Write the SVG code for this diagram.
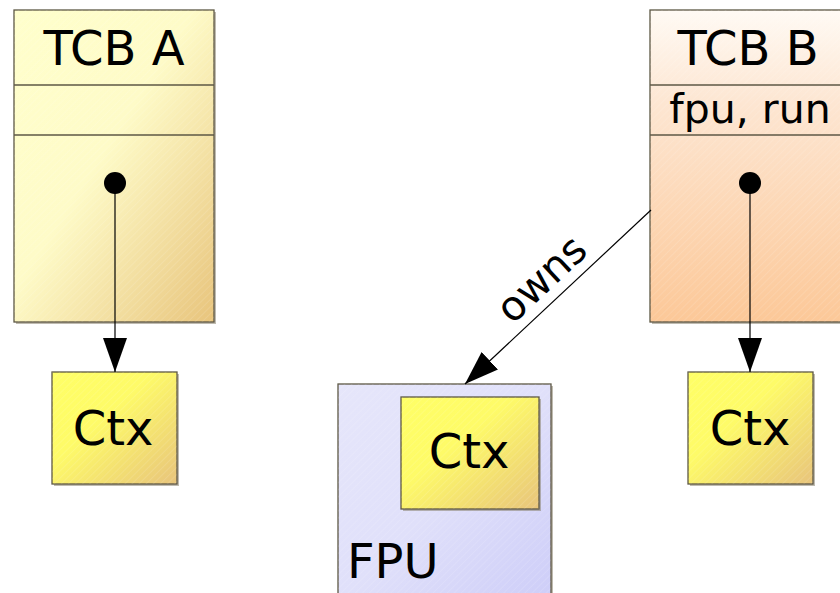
<svg xmlns="http://www.w3.org/2000/svg" width="840" height="593" viewBox="0 0 840 593">
  <defs>
    <linearGradient id="gTcbA" x1="0" y1="0" x2="1" y2="1">
      <stop offset="0" stop-color="#ffffcc"/>
      <stop offset="0.45" stop-color="#fefbc8"/>
      <stop offset="1" stop-color="#e8c47c"/>
    </linearGradient>
    <linearGradient id="gTcbB" x1="0" y1="0" x2="0" y2="1">
      <stop offset="0" stop-color="#fffaf4"/>
      <stop offset="0.3" stop-color="#fde6d2"/>
      <stop offset="1" stop-color="#fcc898"/>
    </linearGradient>
    <linearGradient id="gCtx" x1="0" y1="0" x2="1" y2="1">
      <stop offset="0" stop-color="#ffff66"/>
      <stop offset="0.4" stop-color="#fefb68"/>
      <stop offset="1" stop-color="#e8c47c"/>
    </linearGradient>
    <linearGradient id="gFpu" x1="0" y1="0" x2="1" y2="1">
      <stop offset="0" stop-color="#e6e6fa"/>
      <stop offset="0.5" stop-color="#e0e0fa"/>
      <stop offset="1" stop-color="#cdcdf8"/>
    </linearGradient>
    <pattern id="hatch" width="5" height="5" patternUnits="userSpaceOnUse" patternTransform="rotate(45)">
      <line x1="0" y1="0" x2="0" y2="5" stroke="#ffffff" stroke-opacity="0.22" stroke-width="1"/>
    </pattern>
    <marker id="arrow" viewBox="0 0 34 24" refX="34" refY="12" markerWidth="34" markerHeight="24" markerUnits="userSpaceOnUse" orient="auto">
      <path d="M0,0 L34,12 L0,24 Z" fill="#000"/>
    </marker>
  </defs>
  <style>
    .box { stroke: #5c5744; stroke-width: 1.3; }
    .shadow { fill: #8a8470; opacity: 0.55; }
    .hatch { fill: url(#hatch); stroke: none; }
    .div { stroke: #5c5744; stroke-width: 1.3; fill: none; }
    .lbl { font-family: "DejaVu Sans", "Liberation Sans", sans-serif; fill: #000; }
    .big { font-size: 48px; }
    .mid { font-size: 41px; }
    .conn { stroke: #000; stroke-width: 1.2; fill: none; }
  </style>

  <rect width="840" height="593" fill="#ffffff"/>

  <!-- TCB A: header, empty flags row, pointer slot -->
  <g id="tcbA">
    <rect class="shadow" x="16" y="12" width="200" height="312"/>
    <rect class="box" x="14" y="10" width="200" height="312" fill="url(#gTcbA)"/>
    <rect class="hatch" x="14" y="10" width="200" height="312"/>
    <line class="div" x1="14" y1="85" x2="214" y2="85"/>
    <line class="div" x1="14" y1="135" x2="214" y2="135"/>
    <text class="lbl big" x="114" y="65" text-anchor="middle">TCB A</text>
    <circle cx="115" cy="183" r="11" fill="#000"/>
  </g>

  <!-- TCB B: header, flags row, pointer slot -->
  <g id="tcbB">
    <rect class="shadow" x="652" y="12" width="200" height="312"/>
    <rect class="box" x="650" y="10" width="200" height="312" fill="url(#gTcbB)"/>
    <rect class="hatch" x="650" y="10" width="200" height="312"/>
    <line class="div" x1="650" y1="85" x2="850" y2="85"/>
    <line class="div" x1="650" y1="135" x2="850" y2="135"/>
    <text class="lbl big" x="748" y="65" text-anchor="middle">TCB B</text>
    <text class="lbl mid" x="750" y="123" text-anchor="middle">fpu, run</text>
    <circle cx="750" cy="183" r="11" fill="#000"/>
  </g>

  <!-- Context of TCB A -->
  <g id="ctxA">
    <rect class="shadow" x="54" y="374" width="125" height="112"/>
    <rect class="box" x="52" y="372" width="125" height="112" fill="url(#gCtx)"/>
    <rect class="hatch" x="52" y="372" width="125" height="112"/>
    <text class="lbl big" x="113" y="445" text-anchor="middle">Ctx</text>
  </g>

  <!-- Context of TCB B -->
  <g id="ctxB">
    <rect class="shadow" x="690" y="374" width="125" height="112"/>
    <rect class="box" x="688" y="372" width="125" height="112" fill="url(#gCtx)"/>
    <rect class="hatch" x="688" y="372" width="125" height="112"/>
    <text class="lbl big" x="750" y="445" text-anchor="middle">Ctx</text>
  </g>

  <!-- FPU with its loaded context -->
  <g id="fpu">
    <rect class="shadow" x="340" y="386" width="213" height="220"/>
    <rect class="box" x="338" y="384" width="213" height="220" fill="url(#gFpu)"/>
    <rect class="hatch" x="338" y="384" width="213" height="220"/>
    <text class="lbl big" x="347" y="578">FPU</text>
    <g id="fpuCtx">
      <rect class="shadow" x="403" y="399" width="138" height="112"/>
      <rect class="box" x="401" y="397" width="138" height="112" fill="url(#gCtx)"/>
      <rect class="hatch" x="401" y="397" width="138" height="112"/>
      <text class="lbl big" x="469" y="468" text-anchor="middle">Ctx</text>
    </g>
  </g>

  <!-- Connectors -->
  <g id="connectors">
    <line class="conn" x1="115" y1="183" x2="115" y2="372" marker-end="url(#arrow)"/>
    <line class="conn" x1="750" y1="183" x2="750" y2="372" marker-end="url(#arrow)"/>
    <line class="conn" x1="651" y1="210" x2="465" y2="384" marker-end="url(#arrow)"/>
    <text class="lbl mid" x="0" y="0" text-anchor="middle" transform="translate(551,289) rotate(-43.1)">owns</text>
  </g>
</svg>
